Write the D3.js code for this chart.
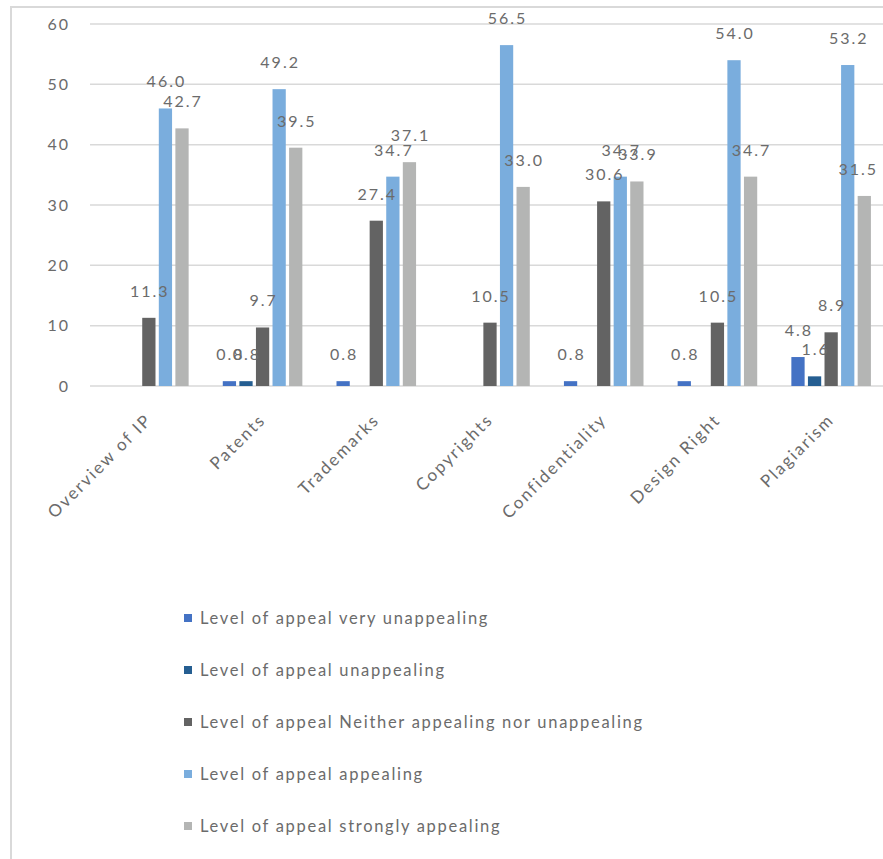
<!DOCTYPE html>
<html>
<meta charset='utf-8'>
<head>
<title>Level of appeal</title>
<script src='https://d3js.org/d3.v7.min.js'></script>
<style>
  body { margin: 0; background: #fff; }
  text { font-family: Lato, 'Open Sans', sans-serif; fill: #6b6b6b; }
</style>
</head>
<body>
<div id='my_dataviz'></div>
<script>

var categories = ['Overview of IP', 'Patents', 'Trademarks', 'Copyrights', 'Confidentiality', 'Design Right', 'Plagiarism'];
var seriesNames = ['Level of appeal very unappealing', 'Level of appeal unappealing',
    'Level of appeal Neither appealing nor unappealing', 'Level of appeal appealing',
    'Level of appeal strongly appealing'];
var veryUnappealing = [null, 0.8, 0.8, null, 0.8, 0.8, 4.8];
var unappealing     = [null, 0.8, null, null, null, null, 1.6];
var neither         = [11.3, 9.7, 27.4, 10.5, 30.6, 10.5, 8.9];
var appealing       = [46.0, 49.2, 34.7, 56.5, 34.7, 54.0, 53.2];
var stronglyAppeal  = [42.7, 39.5, 37.1, 33.0, 33.9, 34.7, 31.5];
var yTicks = [0, 10, 20, 30, 40, 50, 60];
var colors = ['#4472c4', '#255e91', '#636363', '#7aaddd', '#b4b5b4'];

var allSeries = [veryUnappealing, unappealing, neither, appealing, stronglyAppeal];

var W = 883, H = 859;
var svg = d3.select('#my_dataviz')
    .append('svg')
    .attr('width', W)
    .attr('height', H);

// chart frame
svg.append('rect')
    .attr('x', 11).attr('y', 7)
    .attr('width', 950).attr('height', 950)
    .attr('fill', 'none')
    .attr('stroke', '#d9d9d9')
    .attr('stroke-width', 2);

var x0 = d3.scaleBand()
    .domain(categories)
    .range([92, 888]);

var x1 = d3.scaleBand()
    .domain(d3.range(seriesNames.length))
    .range([-43.1, 43.1])
    .padding(0.2);

var y = d3.scaleLinear()
    .domain([0, 60])
    .range([386, 24]);

// gridlines
svg.append('g')
    .selectAll('line')
    .data(yTicks)
    .enter()
    .append('line')
    .attr('x1', 90)
    .attr('x2', W)
    .attr('y1', function(d) { return y(d) })
    .attr('y2', function(d) { return y(d) })
    .attr('stroke', '#d9d9d9')
    .attr('stroke-width', 1.5);

// y axis labels
svg.append('g')
    .selectAll('text')
    .data(yTicks)
    .enter()
    .append('text')
    .attr('x', 70)
    .attr('y', function(d) { return y(d) })
    .attr('dy', '0.35em')
    .attr('text-anchor', 'end')
    .attr('font-size', 16)
    .attr('letter-spacing', 2)
    .text(function(d) { return d });

// bars
var bars = [];
allSeries.forEach(function(vals, s) {
    vals.forEach(function(v, i) {
        if (v !== null) bars.push({s: s, cat: categories[i], v: v});
    });
});

function barX(d) { return x0(d.cat) + x0.bandwidth() / 2 + x1(d.s) }

svg.append('g')
    .selectAll('rect')
    .data(bars)
    .enter()
    .append('rect')
    .attr('x', barX)
    .attr('width', x1.bandwidth())
    .attr('y', function(d) { return y(d.v) })
    .attr('height', function(d) { return y(0) - y(d.v) })
    .attr('fill', function(d) { return colors[d.s] });

// data labels, kept inside the chart's right edge like Excel does
svg.append('g')
    .selectAll('text')
    .data(bars)
    .enter()
    .append('text')
    .attr('y', function(d) { return y(d.v) - 21 })
    .attr('text-anchor', 'middle')
    .attr('font-size', 16)
    .attr('letter-spacing', 2)
    .text(function(d) { return d.v.toFixed(1) })
    .attr('x', function(d) {
        var cx = barX(d) + x1.bandwidth() / 2 + 1;
        var half = this.getComputedTextLength() / 2;
        return Math.min(cx, 878 - half);
    });

// category labels
svg.append('g')
    .selectAll('text')
    .data(categories)
    .enter()
    .append('text')
    .attr('transform', function(d) {
        return 'translate(' + (x0(d) + x0.bandwidth() / 2 + 4) + ',421) rotate(-45)';
    })
    .attr('text-anchor', 'end')
    .attr('font-size', 17)
    .attr('letter-spacing', 2)
    .text(function(d) { return d });

// legend
var legend = svg.append('g')
    .selectAll('g')
    .data(seriesNames)
    .enter()
    .append('g')
    .attr('transform', function(d, i) { return 'translate(184,' + (618 + i * 52) + ')' });

legend.append('rect')
    .attr('x', 0).attr('y', -4)
    .attr('width', 8).attr('height', 8)
    .attr('fill', function(d, i) { return colors[i] });

legend.append('text')
    .attr('x', 16)
    .attr('dy', '0.35em')
    .attr('font-size', 16.5)
    .attr('letter-spacing', 1.7)
    .text(function(d) { return d });

</script>
</body>
</html>
